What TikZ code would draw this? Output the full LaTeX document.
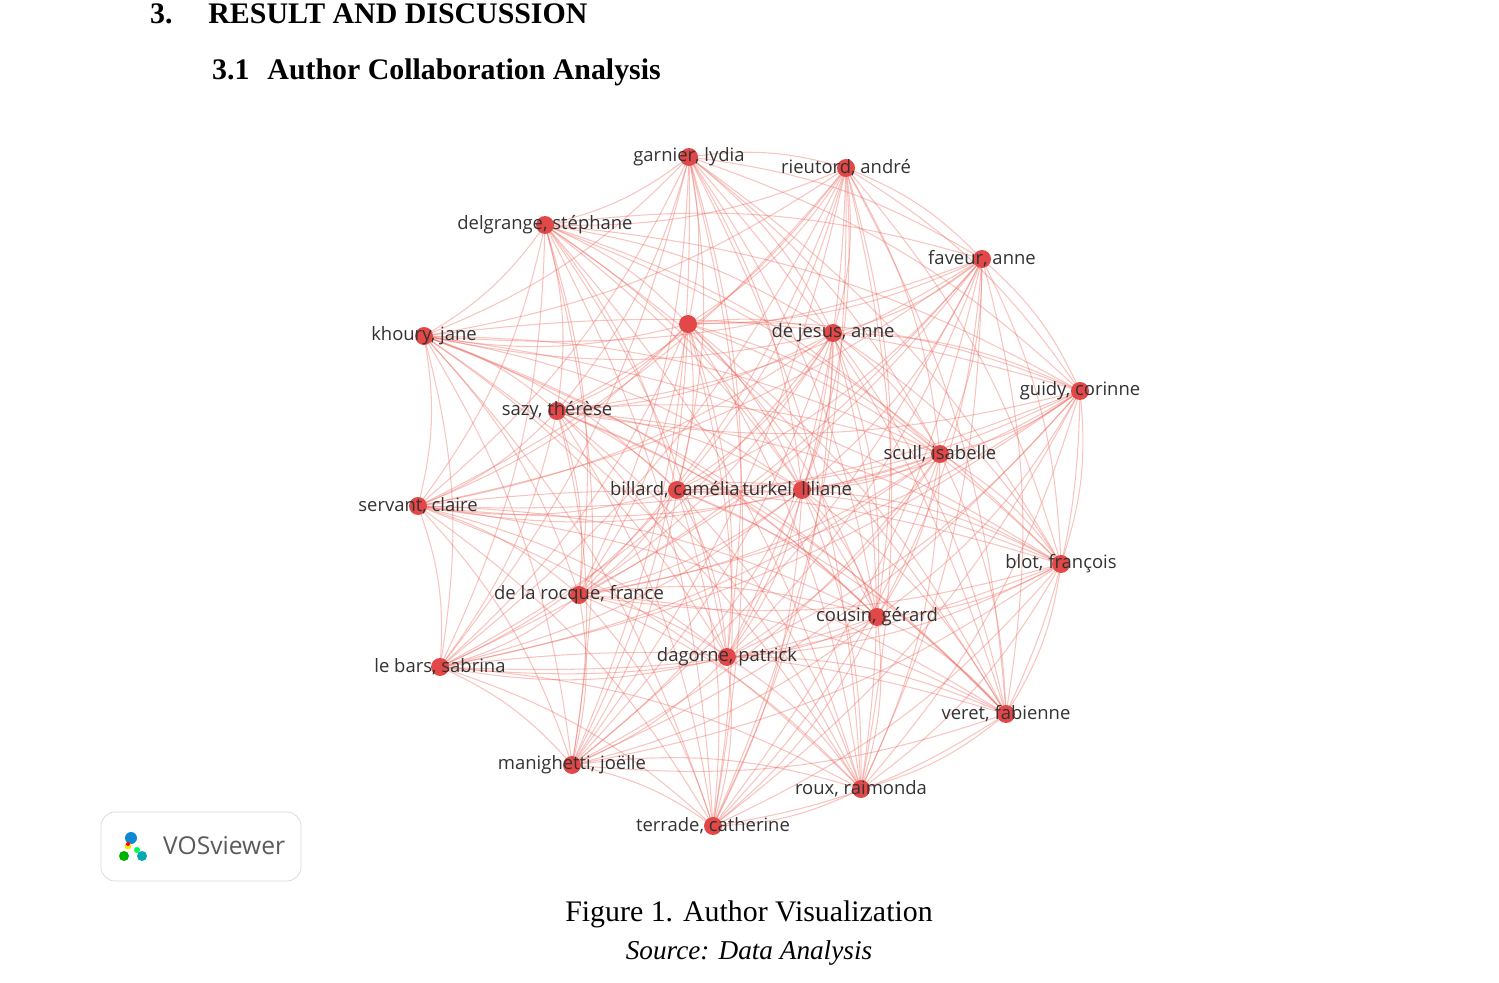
\documentclass[tikz,border=0pt]{standalone}
\usepackage{fontspec}
\setmainfont{Liberation Serif}
\newfontfamily\lab{Open Sans}
\begin{document}
\begin{tikzpicture}[x=0.02cm,y=-0.02cm,
  vnode/.style={circle,fill={rgb,255:red,226;green,72;blue,72},inner sep=0pt,minimum size=0.36cm},
  vedge/.style={draw={rgb,255:red,235;green,100;blue,90},draw opacity=0.38,line width=0.6pt,bend left=12},
  vlab/.style={font=\lab\fontsize{10.5}{12}\selectfont,text={rgb,255:red,50;green,50;blue,50},inner sep=0pt}]
\useasboundingbox (0,0) rectangle (1499,983);
\node[anchor=west,font=\bfseries\fontsize{17}{20}\selectfont] (h1) at (144,14) {3.\hspace{1.2em}RESULT AND DISCUSSION};
\node[anchor=west,font=\bfseries\fontsize{17}{20}\selectfont] (h2) at (206,72) {3.1\hspace{0.6em}Author Collaboration Analysis};
\foreach \n/\x/\y in {1/689/157,2/846/168,3/545/225,4/982/259,5/688/324,6/833/333,7/424/336,8/1080/391,9/557/411,10/940/454,11/677/490,12/802/490,13/418/506,14/1061/564,15/579/595,16/877/617,17/727/657,18/440/667,19/1006/714,20/572/765,21/861/789,22/713/826}
  {\coordinate (n\n) at (\x,\y);}
\foreach \i in {1,...,22}{\foreach \j in {1,...,22}{\ifnum\i<\j \draw[vedge] (n\i) to (n\j);\fi}}
\foreach \i in {1,...,22}{\node[vnode] (c\i) at (n\i) {};}
\foreach \n/\t in {1/{garnier, lydia},2/{rieutord, andré},3/{delgrange, stéphane},4/{faveur, anne},6/{de jesus, anne},7/{khoury, jane},8/{guidy, corinne},9/{sazy, thérèse},10/{scull, isabelle},13/{servant, claire},14/{blot, françois},15/{de la rocque, france},16/{cousin, gérard},17/{dagorne, patrick},18/{le bars, sabrina},19/{veret, fabienne},20/{manighetti, joëlle},21/{roux, raimonda},22/{terrade, catherine}}
  {\node[vlab] (l\n) at (n\n) {\t};}
\node[vlab,anchor=east] (l11) at (740,490) {billard, camélia};
\node[vlab,anchor=west] (l12) at (742,490) {turkel, liliane};
\draw[rounded corners=8pt,draw={rgb,255:red,215;green,215;blue,215}] (101,812) rectangle (301,881);
\node[font=\lab\fontsize{14}{16}\selectfont,text={rgb,255:red,90;green,90;blue,90},anchor=west] (vos) at (157,846) {VOSviewer};
\fill[green!70!black] (124,856) circle (5);
\fill[cyan!70!blue] (131,838) circle (6);
\fill[yellow!90!orange] (128,846) circle (3.5);
\fill[red] (128,844) circle (2);
\fill[cyan!60!green] (142,856) circle (5);
\fill[green!70!cyan] (137,850) circle (3);
\node[font=\fontsize{17}{20}\selectfont] (cap) at (749,914) {Figure 1. Author Visualization};
\node[font=\itshape\fontsize{15.5}{18}\selectfont] (src) at (749,953) {Source: Data Analysis};
\end{tikzpicture}
\end{document}
